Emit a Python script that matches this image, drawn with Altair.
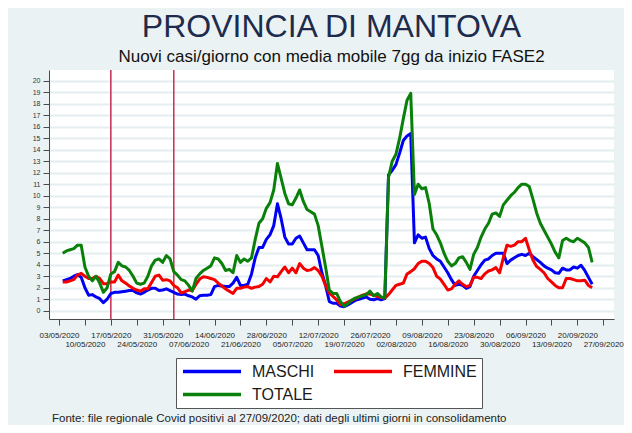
import json
import pandas as pd
import altair as alt

# ---------------- data ----------------
start_date = "04/05/2020"  # first plotted day (one value per day)

totale = [5.0, 5.2, 5.3, 5.4, 5.7, 5.7, 3.8, 3.0, 2.6, 3.0,
          2.4, 1.6, 2.0, 3.2, 3.4, 4.2, 3.9, 3.8, 3.5, 3.0,
          2.4, 2.3, 2.4, 3.0, 3.9, 4.4, 4.5, 4.2, 4.8, 4.5,
          3.4, 3.1, 2.7, 2.6, 2.2, 1.7, 2.8, 3.2, 3.5, 3.7,
          3.9, 4.6, 4.5, 4.1, 3.5, 3.6, 3.3, 4.8, 4.2, 4.5,
          4.3, 4.6, 6.2, 7.6, 8.0, 8.9, 9.4, 10.5, 12.8, 11.5,
          10.2, 9.3, 9.2, 9.8, 10.5, 9.5, 8.8, 8.6, 8.4, 7.4,
          5.6, 3.8, 1.8, 1.5, 1.5, 0.8, 0.4, 0.6, 0.9, 1.1,
          1.2, 1.3, 1.4, 1.7, 1.3, 1.5, 1.2, 1.1, 11.6, 13.0,
          13.6, 15.0, 16.7, 18.3, 18.9, 10.1, 11.0, 10.6, 10.7, 9.3,
          7.1, 6.6, 5.9, 5.0, 4.3, 3.9, 4.1, 4.6, 4.7, 4.2,
          3.6, 4.9, 5.5, 6.4, 7.1, 7.6, 8.4, 8.5, 8.2, 9.2,
          9.6, 10.0, 10.3, 10.7, 11.0, 11.0, 10.8, 9.7, 8.5, 7.6,
          7.0, 6.4, 5.8, 5.1, 4.6, 6.1, 6.3, 6.1, 6.0, 6.3,
          6.1, 5.9, 5.5, 4.2]

maschi = [2.6, 2.7, 2.8, 3.0, 3.15, 2.9, 2.0, 1.35, 1.4, 1.2,
          1.05, 0.7, 1.0, 1.5, 1.6, 1.6, 1.65, 1.7, 1.75, 1.75,
          1.55, 1.45, 1.6, 1.8, 1.95, 1.95, 1.75, 1.8, 1.9, 1.75,
          1.6, 1.45, 1.4, 1.45, 1.3, 1.2, 1.0, 1.3, 1.35, 1.35,
          1.4, 2.1, 2.2, 2.15, 2.1, 2.1, 2.4, 2.9, 2.2, 2.2,
          2.3, 3.2, 4.6, 5.5, 5.5, 6.2, 6.6, 7.4, 9.3, 8.0,
          6.4, 5.8, 5.8, 6.3, 6.5, 5.9, 5.3, 5.3, 5.3, 4.8,
          3.3, 2.2, 0.8, 0.65, 0.65, 0.4, 0.35, 0.5, 0.7, 0.9,
          1.0, 1.1, 1.2, 1.0, 0.95, 1.05, 0.95, 1.05, 11.8, 12.2,
          12.7, 13.7, 14.8, 15.2, 15.4, 5.9, 6.6, 6.3, 6.4, 5.4,
          4.8, 4.5, 4.3, 3.8, 3.3, 2.7, 2.2, 2.3, 2.2, 1.95,
          2.1, 3.0, 3.5, 4.0, 4.4, 4.5, 4.8, 5.0, 5.0, 5.0,
          4.1, 4.4, 4.6, 4.8, 4.9, 4.8, 5.0, 4.7, 4.45, 4.2,
          3.9, 3.7, 3.55, 3.3, 3.25, 3.7, 3.55, 3.55, 3.8, 3.7,
          3.95, 3.5, 2.9, 2.3]

femmine = [2.5, 2.5, 2.6, 2.7, 3.1, 3.25, 3.0, 2.8, 2.8, 3.0,
           2.8, 2.35, 2.35, 2.5, 2.5, 3.1, 2.6, 2.4, 2.15, 1.95,
           1.8, 1.7, 1.9, 1.9, 2.45, 3.0, 3.1, 2.65, 2.7, 2.6,
           2.2, 2.0, 1.55, 1.65, 1.8, 1.75, 2.3, 2.75, 2.95, 2.9,
           2.8, 2.7, 2.4, 2.15, 1.9, 1.7, 1.5, 1.95, 1.95, 2.05,
           2.1, 1.95, 2.05, 2.1, 2.3, 2.8, 2.5, 3.0, 2.95, 3.4,
           3.8, 3.3, 3.7, 3.3, 4.1, 3.7, 3.5, 3.55, 3.75, 3.5,
           3.0, 2.2, 1.55, 1.25, 0.95, 0.55, 0.6, 0.75, 0.9, 1.05,
           1.2, 1.35, 1.45, 1.45, 1.35, 1.25, 1.15, 1.1, 1.4, 1.8,
           2.2, 2.3, 2.4, 3.2, 3.4, 3.65, 4.1, 4.3, 4.3, 4.1,
           3.75, 3.0, 2.75, 2.3, 1.8, 1.9, 2.3, 2.6, 2.3, 2.1,
           2.2, 2.9, 2.9, 2.8, 3.2, 3.45, 3.55, 3.75, 3.3, 4.6,
           5.7, 5.6, 5.7, 6.0, 6.0, 6.3, 5.3, 4.4, 3.85, 3.6,
           3.3, 2.8, 2.5, 2.2, 2.0, 2.0, 2.8, 2.8, 2.7, 2.6,
           2.6, 2.65, 2.2, 2.0]

tick_labels = ["03/05/2020", "10/05/2020", "17/05/2020", "24/05/2020",
               "31/05/2020", "07/06/2020", "14/06/2020", "21/06/2020",
               "28/06/2020", "05/07/2020", "12/07/2020", "19/07/2020",
               "26/07/2020", "02/08/2020", "09/08/2020", "16/08/2020",
               "23/08/2020", "30/08/2020", "06/09/2020", "13/09/2020",
               "20/09/2020", "27/09/2020"]
y_ticks = list(range(0, 21))
phase_dates = ["17/05/2020", "03/06/2020"]

series_names = ["MASCHI", "FEMMINE", "TOTALE"]
series_colors = ["#0000f5", "#f50000", "#0a800a"]

title_text = "PROVINCIA DI MANTOVA"
subtitle_text = "Nuovi casi/giorno con media mobile 7gg da inizio FASE2"
note_text = ("Fonte: file regionale Covid positivi al 27/09/2020; "
             "dati degli ultimi giorni in consolidamento")

# ---------------- build tables ----------------
origin = pd.to_datetime(tick_labels[0], dayfirst=True)
dates = pd.date_range(pd.to_datetime(start_date, dayfirst=True),
                      periods=len(totale), freq="D")
days = [(d - origin).days for d in dates]
tick_days = [(pd.to_datetime(t, dayfirst=True) - origin).days for t in tick_labels]
phase_days = [(pd.to_datetime(t, dayfirst=True) - origin).days for t in phase_dates]

frames = {
    "MASCHI": pd.DataFrame({"day": days, "value": maschi, "serie": "MASCHI"}),
    "FEMMINE": pd.DataFrame({"day": days, "value": femmine, "serie": "FEMMINE"}),
    "TOTALE": pd.DataFrame({"day": days, "value": totale, "serie": "TOTALE"}),
}

FONT = "Liberation Sans"
AX = "#4a4a4a"

lab_js = json.dumps(tick_labels)
days_js = json.dumps(tick_days)
idx = f"indexof({days_js}, datum.value)"
label_expr = f"({idx} % 2 == 1) ? ['', {lab_js}[{idx}]] : {lab_js}[{idx}]"

x_enc = alt.X(
    "day:Q",
    scale=alt.Scale(domain=[-2.7, 149.9], nice=False, zero=False),
    axis=alt.Axis(values=tick_days, labelExpr=label_expr, title=None, grid=False,
                  labelFontSize=8, labelFont=FONT, labelColor="#222",
                  labelPadding=6, labelLineHeight=9, labelOverlap=False,
                  labelFlush=False, labelBaseline="top",
                  tickSize=6, tickColor=AX, domainColor=AX, tickWidth=1),
)
y_scale = alt.Scale(domain=[-0.72, 20.93], nice=False, zero=False)
y_enc = alt.Y(
    "value:Q",
    scale=y_scale,
    axis=alt.Axis(values=y_ticks, title=None, grid=True, gridColor="#e4edf0",
                  gridWidth=1.8, labelFontSize=7, labelFont=FONT,
                  labelColor="#333", labelPadding=3, tickSize=6,
                  tickColor=AX, domainColor=AX, labelOverlap=False),
)

color_scale = alt.Scale(domain=series_names, range=series_colors)
legend = alt.Legend(orient="none", legendX=127, legendY=288, direction="horizontal",
                    columns=2, title=None, symbolType="stroke", symbolSize=3364,
                    symbolStrokeWidth=3.5, labelFontSize=16, labelFont=FONT,
                    labelColor="#1a1a1a", columnPadding=17, rowPadding=6,
                    padding=5, strokeColor="#555555", fillColor="white",
                    labelOffset=9, clipHeight=17)

rules = alt.Chart(pd.DataFrame({"day": phase_days})).mark_rule(
    color="#c8385a", strokeWidth=1.6
).encode(x=x_enc)

layers = [rules]
for name in series_names:
    layers.append(
        alt.Chart(frames[name]).mark_line(strokeWidth=3, strokeJoin="round").encode(
            x=x_enc,
            y=y_enc,
            color=alt.Color("serie:N", scale=color_scale, legend=legend,
                            sort=series_names),
        )
    )

note = alt.Chart(pd.DataFrame({"t": [note_text]})).mark_text(
    align="left", baseline="alphabetic", fontSize=11.5, font=FONT, color="#222"
).encode(x=alt.value(3), y=alt.value(352), text="t:N")
layers.append(note)

chart = alt.layer(*layers).properties(
    width=565,
    height=249,
    autosize=alt.AutoSizeParams(type="none"),
    padding={"left": 41, "top": 62, "right": 10, "bottom": 106},
    background="#eaf2f3",
    title=alt.TitleParams(text=title_text, subtitle=subtitle_text,
                          fontSize=32, font=FONT, fontWeight="normal",
                          color="#1e2b4d", subtitleFontSize=17,
                          subtitleFont=FONT, subtitleColor="#111",
                          subtitlePadding=5, anchor="middle", offset=3),
).configure_view(fill="white", strokeWidth=0)

chart.save("out.html", embed_options={"renderer": "svg", "actions": False})
